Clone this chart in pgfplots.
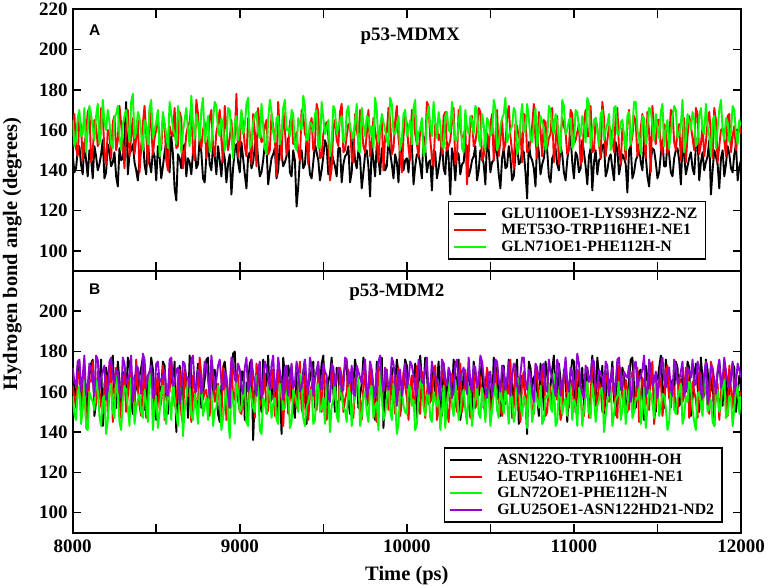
\documentclass[border=0pt]{standalone}
\usepackage{pgfplots}
\pgfplotsset{compat=1.18}
\usepackage{pgfplotstable}
\usepackage{fontspec}
\setmainfont{Liberation Serif}
\newfontfamily\arialfont{Liberation Sans}
\definecolor{mgred}{RGB}{255,0,0}
\definecolor{mggreen}{RGB}{0,255,0}
\definecolor{mgviolet}{RGB}{148,0,211}

\pgfplotstableread{
t a b c
8000 148 160 165
8020 141 151 155
8040 152 166 170
8060 138 145 158
8080 145 158 149
8100 150 171 172
8120 136 149 161
8140 147 162 167
8160 143 155 153
8180 155 168 175
8200 139 143 160
8220 149 159 164
8240 144 164 151
8260 137 150 168
8280 151 172 157
8300 146 153 163
8320 174 161 170
8340 148 147 154
8360 153 166 178
8380 140 156 159
8400 145 139 166
8420 157 163 150
8440 138 158 162
8460 144 170 171
8480 150 148 156
8500 135 160 164
8520 147 154 147
8540 142 167 169
8560 154 145 158
8580 139 162 174
8600 148 157 161
8620 125 151 153
8640 146 169 166
8660 151 141 159
8680 137 158 171
8700 144 164 152
8720 149 149 163
8740 141 175 168
8760 156 155 155
8780 136 160 176
8800 147 146 160
8820 143 166 149
8840 152 152 165
8860 138 159 172
8880 145 170 157
8900 150 144 162
8920 134 161 154
8940 148 156 170
8960 141 149 146
8980 153 178 167
9000 139 153 161
9020 146 163 158
9040 131 147 173
9060 149 158 151
9080 144 168 164
9100 157 142 169
9120 137 160 156
9140 145 155 162
9160 151 165 148
9180 140 150 175
9200 148 162 159
9220 136 137 166
9240 154 157 153
9260 142 171 171
9280 147 148 160
9300 139 164 157
9320 150 153 168
9340 122 159 150
9360 146 145 163
9380 141 167 177
9400 155 156 155
9420 138 162 164
9440 144 150 159
9460 149 173 170
9480 135 146 152
9500 147 158 166
9520 152 164 161
9540 140 135 147
9560 145 161 172
9580 137 155 158
9600 151 169 165
9620 143 149 154
9640 148 157 169
9660 134 163 161
9680 156 144 156
9700 141 160 173
9720 146 170 149
9740 139 152 163
9760 150 158 167
9780 127 147 158
9800 145 166 151
9820 153 154 170
9840 138 161 160
9860 147 140 164
9880 142 159 155
9900 149 165 176
9920 136 151 159
9940 144 172 162
9960 155 148 150
9980 140 157 168
10000 146 163 157
10020 151 145 165
10040 133 168 171
10060 148 153 153
10080 143 160 160
10100 157 149 147
10120 139 174 166
10140 145 156 162
10160 150 142 174
10180 136 162 156
10200 147 158 163
10220 141 167 151
10240 154 150 169
10260 128 155 159
10280 146 171 164
10300 149 146 155
10320 138 161 172
10340 144 157 149
10360 152 133 161
10380 140 164 167
10400 147 152 158
10420 135 160 170
10440 150 169 152
10460 143 147 163
10480 156 158 166
10500 139 163 157
10520 145 145 175
10540 148 170 150
10560 131 155 162
10580 151 150 168
10600 142 166 154
10620 146 157 160
10640 137 141 171
10660 153 162 148
10680 144 159 165
10700 149 168 159
10720 126 149 173
10740 147 154 156
10760 141 173 163
10780 155 146 152
10800 138 160 167
10820 146 165 161
10840 150 151 155
10860 134 158 170
10880 148 144 158
10900 143 167 164
10920 152 156 149
10940 139 162 172
10960 145 148 160
10980 157 170 166
11000 136 153 153
11020 147 159 169
11040 141 143 157
11060 149 164 162
11080 133 157 176
11100 151 172 151
11120 144 150 165
11140 138 161 159
11160 146 146 168
11180 153 166 155
11200 140 155 163
11220 148 160 150
11240 135 149 171
11260 150 171 158
11280 143 143 164
11300 146 158 157
11320 129 164 167
11340 152 152 153
11360 139 167 174
11380 147 147 160
11400 144 161 148
11420 155 156 166
11440 137 169 162
11460 145 139 170
11480 150 158 155
11500 136 165 161
11520 148 151 169
11540 142 163 152
11560 154 148 165
11580 139 170 159
11600 146 154 172
11620 151 159 156
11640 133 145 163
11660 147 166 149
11680 142 157 168
11700 149 162 160
11720 138 150 165
11740 156 168 154
11760 144 153 171
11780 140 147 158
11800 147 164 162
11820 128 158 147
11840 150 171 167
11860 143 144 161
11880 146 160 175
11900 137 155 155
11920 152 167 164
11940 141 149 159
11960 148 162 170
11980 135 156 153
12000 145 158 162
}\topdataA

\pgfplotstableread{
t a b c
8010 139 168 152
8030 150 147 166
8050 143 162 157
8070 154 153 171
8090 137 169 160
8110 146 144 168
8130 152 165 155
8150 140 152 173
8170 148 171 159
8190 136 149 164
8210 153 160 170
8230 142 146 153
8250 149 167 166
8270 132 155 172
8290 145 163 150
8310 156 141 167
8330 138 170 161
8350 150 157 174
8370 144 148 156
8390 135 165 169
8410 151 152 158
8430 143 172 165
8450 155 143 153
8470 139 161 175
8490 147 156 160
8510 152 167 170
8530 136 150 155
8550 149 163 163
8570 144 140 151
8590 157 158 168
8610 131 171 158
8630 148 152 172
8650 141 166 149
8670 153 148 165
8690 146 162 160
8710 138 173 177
8730 152 145 156
8750 143 168 163
8770 149 151 170
8790 134 164 154
8810 155 154 167
8830 140 170 152
8850 147 147 174
8870 152 163 159
8890 137 155 166
8910 146 172 150
8930 143 150 171
8950 128 165 158
8970 150 157 164
8990 144 147 155
9010 154 169 170
9030 138 152 162
9050 147 166 176
9070 141 143 153
9090 152 159 167
9110 145 171 159
9130 139 154 173
9150 153 162 151
9170 133 148 165
9190 146 168 169
9210 151 156 154
9230 140 174 167
9250 148 145 158
9270 144 160 175
9290 156 151 161
9310 137 167 170
9330 145 155 152
9350 132 149 166
9370 150 170 160
9390 143 158 172
9410 148 143 156
9430 136 166 163
9450 153 153 168
9470 145 169 151
9490 140 147 174
9510 155 162 158
9530 138 157 165
9550 149 141 153
9570 142 165 170
9590 151 152 161
9610 134 173 167
9630 147 150 155
9650 152 163 172
9670 139 146 159
9690 145 168 164
9710 150 155 150
9730 131 162 171
9750 148 149 157
9770 142 170 166
9790 153 153 162
9810 137 160 176
9830 146 144 154
9850 151 166 168
9870 140 157 160
9890 155 171 152
9910 143 148 173
9930 148 164 158
9950 134 156 167
9970 150 139 155
9990 145 167 170
10010 139 151 161
10030 153 170 153
10050 142 158 175
10070 148 147 159
10090 136 165 166
10110 151 153 150
10130 144 172 172
10150 130 146 157
10170 149 163 164
10190 141 155 169
10210 155 148 152
10230 138 169 167
10250 146 152 160
10270 151 164 174
10290 135 143 155
10310 148 170 163
10330 143 156 151
10350 153 161 170
10370 137 148 158
10390 145 167 165
10410 152 154 172
10430 140 171 156
10450 147 145 168
10470 133 160 150
10490 150 151 164
10510 144 168 159
10530 155 157 171
10550 138 147 153
10570 146 165 166
10590 141 153 176
10610 152 172 157
10630 135 149 162
10650 148 163 169
10670 143 156 151
10690 150 144 173
10710 139 167 160
10730 154 150 166
10750 145 162 154
10770 132 155 171
10790 149 169 159
10810 143 147 164
10830 153 164 150
10850 137 156 172
10870 146 171 162
10890 151 152 168
10910 140 143 155
10930 148 166 175
10950 135 159 158
10970 152 150 165
10990 144 168 151
11010 149 155 170
11030 139 163 161
11050 155 145 167
11070 142 170 154
11090 147 157 173
11110 130 149 159
11130 150 166 166
11150 145 153 152
11170 152 174 170
11190 137 147 160
11210 146 162 168
11230 141 155 155
11250 154 167 172
11270 138 150 158
11290 148 161 165
11310 143 145 150
11330 150 170 169
11350 136 157 161
11370 145 164 174
11390 153 151 156
11410 140 168 167
11430 147 146 153
11450 132 159 171
11470 151 172 162
11490 144 153 168
11510 139 165 156
11530 155 148 173
11550 142 161 160
11570 148 155 151
11590 137 169 166
11610 150 150 170
11630 145 163 158
11650 153 157 175
11670 138 144 155
11690 146 167 164
11710 141 156 169
11730 152 171 152
11750 135 148 167
11770 149 162 160
11790 144 154 173
11810 155 169 157
11830 140 146 165
11850 147 165 151
11870 131 152 170
11890 150 161 160
11910 143 147 166
11930 148 168 154
11950 139 157 172
11970 153 150 158
11990 142 164 165
}\topdataB

\pgfplotstableread{
t a b c d
8000 170 163 158 172
8020 158 152 146 163
8040 175 170 163 176
8060 162 157 151 168
8080 147 146 142 158
8100 168 166 160 174
8120 176 175 155 166
8140 155 154 166 178
8160 165 161 148 161
8180 143 149 157 170
8200 172 168 139 156
8220 160 158 162 175
8240 178 145 150 167
8260 152 172 168 171
8280 166 156 145 160
8300 170 163 156 177
8320 157 150 161 164
8340 174 167 143 169
8360 149 159 165 155
8380 163 176 152 173
8400 168 153 159 166
8420 177 162 147 179
8440 154 147 154 162
8460 165 169 170 170
8480 171 157 141 157
8500 146 164 158 174
8520 160 151 150 165
8540 175 173 163 168
8560 158 148 144 159
8580 169 160 155 176
8600 163 166 167 163
8620 140 155 149 171
8640 173 171 160 154
8660 156 144 138 175
8680 167 163 156 167
8700 178 158 164 162
8720 150 168 146 178
8740 164 152 153 160
8760 171 177 161 169
8780 159 156 148 164
8800 176 161 157 173
8820 153 148 165 157
8840 168 167 143 170
8860 162 159 152 166
8880 145 154 159 176
8900 172 172 147 161
8920 166 146 162 168
8940 157 164 137 152
8960 179 157 155 174
8980 160 170 166 165
9000 151 150 150 171
9020 170 162 158 159
9040 164 145 145 177
9060 174 168 163 163
9080 136 158 152 169
9100 167 174 168 158
9120 158 153 141 175
9140 176 160 157 166
9160 163 149 149 172
9180 155 166 160 161
9200 171 171 154 178
9220 148 155 146 164
9240 165 163 164 170
9260 177 143 151 156
9280 159 169 158 173
9300 168 157 142 167
9320 153 161 161 162
9340 173 152 155 175
9360 162 175 169 160
9380 170 148 147 169
9400 144 165 153 165
9420 166 159 160 177
9440 175 167 144 158
9460 157 151 162 171
9480 163 162 150 163
9500 178 170 157 174
9520 152 146 167 168
9540 169 158 140 155
9560 160 164 156 172
9580 172 155 148 166
9600 156 172 163 170
9620 167 150 152 161
9640 174 160 145 176
9660 149 166 159 164
9680 164 147 154 159
9700 170 169 166 173
9720 158 156 143 167
9740 177 163 158 171
9760 161 153 150 157
9780 166 175 161 175
9800 153 158 147 163
9820 175 145 155 169
9840 168 167 170 178
9860 142 161 146 160
9880 171 171 157 168
9900 163 152 151 165
9920 157 159 164 174
9940 176 164 139 153
9960 150 148 160 171
9980 167 170 153 166
10000 173 157 149 162
10020 160 162 162 175
10040 165 154 156 168
10060 147 173 144 158
10080 178 149 165 172
10100 162 166 152 164
10120 169 160 158 177
10140 155 155 147 161
10160 172 168 160 170
10180 164 146 153 166
10200 158 163 141 156
10220 174 171 163 174
10240 151 152 155 163
10260 168 158 168 169
10280 176 165 148 160
10300 161 150 157 176
10320 146 174 150 167
10340 170 156 161 172
10360 165 161 144 159
10380 157 147 159 165
10400 175 169 152 173
10420 163 154 166 162
10440 168 166 147 178
10460 152 159 156 167
10480 171 172 162 157
10500 159 148 143 170
10520 177 163 158 164
10540 166 157 151 175
10560 148 151 164 160
10580 173 167 149 171
10600 162 160 155 166
10620 169 176 160 158
10640 155 153 145 174
10660 176 164 167 163
10680 160 145 153 169
10700 165 170 158 177
10720 139 158 142 161
10740 172 162 161 168
10760 167 149 150 155
10780 158 166 156 172
10800 174 155 163 166
10820 151 173 146 174
10840 169 150 157 160
10860 163 161 152 170
10880 178 167 169 163
10900 157 156 145 176
10920 166 146 159 158
10940 171 169 154 168
10960 145 159 148 165
10980 168 163 162 172
11000 175 152 156 161
11020 160 171 143 179
11040 164 157 160 164
11060 153 148 151 157
11080 172 165 165 171
11100 167 160 147 167
11120 158 174 157 175
11140 177 154 153 162
11160 162 162 161 169
11180 149 151 140 160
11200 170 168 155 173
11220 165 157 163 165
11240 156 164 149 159
11260 173 147 158 176
11280 161 170 146 163
11300 168 155 161 170
11320 150 161 154 167
11340 176 166 167 155
11360 163 150 150 174
11380 159 172 156 162
11400 171 158 144 168
11420 146 163 162 178
11440 167 153 152 160
11460 174 169 159 171
11480 157 144 147 165
11500 165 160 165 157
11520 178 167 153 173
11540 152 156 158 166
11560 169 173 141 169
11580 162 152 160 161
11600 160 162 151 176
11620 172 149 157 164
11640 155 165 164 170
11660 166 158 148 158
11680 175 171 155 172
11700 148 154 162 167
11720 168 160 145 163
11740 163 147 159 175
11760 177 168 153 160
11780 158 163 168 169
11800 171 156 150 154
11820 161 175 156 173
11840 143 151 143 166
11860 169 164 161 171
11880 166 159 154 162
11900 174 170 166 177
11920 154 148 149 165
11940 167 161 157 168
11960 172 166 152 159
11980 159 157 163 174
12000 164 160 158 167
}\botdataA

\pgfplotstableread{
t a b c d
8010 161 157 149 165
8030 173 168 160 175
8050 150 151 144 160
8070 169 172 166 178
8090 158 148 141 163
8110 174 165 157 171
8130 148 156 151 158
8150 167 170 162 176
8170 176 153 143 167
8190 155 164 158 173
8210 166 149 146 161
8230 171 174 164 177
8250 159 155 147 164
8270 175 161 159 170
8290 148 147 141 157
8310 163 169 163 174
8330 177 158 152 166
8350 156 171 167 178
8370 168 151 144 163
8390 160 162 156 172
8410 172 148 150 159
8430 151 170 161 176
8450 166 157 145 168
8470 177 164 166 173
8490 155 150 153 160
8510 169 168 142 175
8530 161 155 160 166
8550 173 146 149 171
8570 149 162 164 158
8590 166 175 146 177
8610 175 153 157 164
8630 157 166 143 172
8650 164 149 162 160
8670 171 170 151 174
8690 147 158 166 167
8710 168 145 148 176
8730 160 163 159 162
8750 174 153 144 171
8770 152 168 163 159
8790 166 160 153 175
8810 177 150 146 166
8830 158 172 160 178
8850 171 155 151 161
8870 149 164 163 173
8890 163 146 141 165
8910 175 167 155 170
8930 155 153 148 158
8950 168 175 161 177
8970 180 156 144 166
8990 156 168 160 174
9010 170 149 152 162
9030 146 163 165 172
9050 165 154 143 160
9070 176 171 157 176
9090 159 147 150 164
9110 172 166 161 171
9130 150 155 139 157
9150 167 169 154 175
9170 178 151 164 168
9190 156 162 147 173
9210 164 148 157 160
9230 175 170 144 177
9250 139 156 161 166
9270 168 162 152 172
9290 173 149 163 158
9310 160 173 145 174
9330 147 155 158 164
9350 170 166 150 170
9370 156 152 166 162
9390 176 168 143 176
9410 163 146 155 159
9430 171 163 161 173
9450 152 157 146 166
9470 167 172 164 175
9490 174 150 152 161
9510 158 165 144 170
9530 165 153 159 157
9550 177 170 153 174
9570 150 157 165 163
9590 169 147 145 172
9610 161 168 158 160
9630 173 156 151 177
9650 155 171 162 165
9670 168 150 143 173
9690 176 165 157 158
9710 152 158 167 170
9730 164 146 148 164
9750 172 169 160 176
9770 158 155 145 162
9790 170 162 163 171
9810 146 148 153 157
9830 166 174 141 175
9850 177 157 158 166
9870 160 166 149 172
9890 155 151 163 161
9910 172 168 146 177
9930 164 149 156 165
9950 169 172 144 170
9970 157 155 161 158
9990 176 163 150 174
10010 151 146 164 166
10030 168 168 153 173
10050 174 158 141 161
10070 159 152 158 176
10090 166 170 166 165
10110 177 147 148 171
10130 154 164 160 159
10150 167 157 145 175
10170 160 173 155 168
10190 175 151 163 162
10210 148 167 150 176
10230 165 159 142 166
10250 171 145 161 172
10270 157 169 153 157
10290 168 156 166 174
10310 176 162 146 163
10330 153 150 158 170
10350 164 171 151 164
10370 172 155 163 177
10390 149 166 143 160
10410 169 152 157 172
10430 158 170 149 166
10450 175 158 162 175
10470 162 147 145 161
10490 166 165 159 169
10510 150 154 151 158
10530 174 171 164 176
10550 160 156 147 166
10570 168 148 155 173
10590 154 167 161 161
10610 176 159 144 175
10630 163 147 157 167
10650 171 170 150 172
10670 144 155 163 159
10690 168 166 148 177
10710 157 153 156 165
10730 175 163 166 171
10750 162 151 145 160
10770 169 172 160 174
10790 148 156 152 166
10810 166 168 144 173
10830 175 148 158 161
10850 156 164 164 176
10870 171 153 150 167
10890 159 169 143 158
10910 174 157 161 172
10930 152 150 149 164
10950 169 174 157 177
10970 161 152 165 160
10990 176 166 146 170
11010 150 155 154 166
11030 167 169 162 174
11050 172 149 143 159
11070 158 163 158 173
11090 165 147 150 165
11110 178 172 164 176
11130 153 158 145 162
11150 168 165 156 171
11170 173 150 162 167
11190 157 168 148 175
11210 164 155 159 158
11230 175 162 143 172
11250 151 149 156 164
11270 167 173 165 177
11290 172 157 151 161
11310 156 166 144 168
11330 166 151 160 173
11350 177 170 147 160
11370 152 156 157 175
11390 170 145 164 166
11410 160 167 150 171
11430 173 160 142 158
11450 158 151 161 176
11470 168 175 154 163
11490 150 154 166 170
11510 172 163 148 165
11530 163 148 159 177
11550 176 171 152 162
11570 157 158 145 172
11590 166 164 163 158
11610 175 150 149 173
11630 153 167 160 166
11650 169 155 144 175
11670 160 172 158 161
11690 172 147 165 170
11710 157 165 151 176
11730 174 156 141 164
11750 150 170 160 171
11770 166 152 148 157
11790 176 162 165 175
11810 158 149 152 163
11830 168 171 145 172
11850 162 158 161 159
11870 175 146 150 176
11890 153 166 163 166
11910 170 154 147 170
11930 160 173 158 162
11950 174 152 143 175
11970 150 165 160 164
11990 168 158 149 171
}\botdataB

\pgfplotstablevertcat{\topdataA}{\topdataB}
\pgfplotstablesort[sort key=t]{\topdata}{\topdataA}
\pgfplotstablevertcat{\botdataA}{\botdataB}
\pgfplotstablesort[sort key=t]{\botdata}{\botdataA}

\pgfplotsset{
  panel/.style={
    scale only axis, width=668.3bp, height=261.7bp,
    xmin=8000, xmax=12000, ymin=90, ymax=220,
    xtick={8000,8500,...,12000},
    scaled x ticks=false, scaled y ticks=false,
    axis line style={line width=1.8bp},
    tick style={line width=1.6bp, black},
    major tick length=8.5bp,
    tick align=inside,
    /pgf/number format/assume math mode=true,
    ticklabel style={font=\fontsize{19bp}{21bp}\selectfont\bfseries},
    yticklabel style={xshift=-1.5bp},
    xticklabel style={yshift=-3.5bp},
    legend cell align=left,
    legend image code/.code={\draw[##1,line width=2bp] (0bp,0bp) -- (32bp,0bp);},
    legend style={draw=black, line width=1.6bp,
      font=\fontsize{15.8bp}{18bp}\selectfont\bfseries,
      inner xsep=5bp, inner ysep=4bp, row sep=0bp,
      nodes={inner xsep=3bp, inner ysep=2.3bp},
      /tikz/every odd column/.append style={column sep=11bp}},
    every axis plot/.append style={mark=none, line width=1.9bp, line join=round},
  },
}

\begin{document}
\begin{tikzpicture}
\path[use as bounding box] (-72.7bp,-55.3bp) rectangle (699.3bp,532.7bp);
\begin{axis}[panel, at={(0bp,261.7bp)}, anchor=south west,
  ytick={100,120,...,220}, xticklabels={},
  legend style={at={(0.948,0.042)}, anchor=south east}]
\addplot[black] table[x=t,y=a]{\topdata};
\addlegendentry{GLU110OE1-LYS93HZ2-NZ}
\addplot[mgred] table[x=t,y=b]{\topdata};
\addlegendentry{MET53O-TRP116HE1-NE1}
\addplot[mggreen] table[x=t,y=c]{\topdata};
\addlegendentry{GLN71OE1-PHE112H-N}
\node[font=\arialfont\fontsize{15.5bp}{17bp}\selectfont\bfseries] at (rel axis cs:0.033,0.921) {A};
\node[font=\fontsize{19bp}{21bp}\selectfont\bfseries] at (rel axis cs:0.505,0.898) {p53-MDMX};
\end{axis}
\begin{axis}[panel, at={(0bp,0bp)}, anchor=south west,
  ytick={100,120,...,200}, xticklabels={8000,,9000,,10000,,11000,,12000},
  legend style={at={(0.973,0.037)}, anchor=south east}]
\addplot[black] table[x=t,y=a]{\botdata};
\addlegendentry{ASN122O-TYR100HH-OH}
\addplot[mgred] table[x=t,y=b]{\botdata};
\addlegendentry{LEU54O-TRP116HE1-NE1}
\addplot[mggreen] table[x=t,y=c]{\botdata};
\addlegendentry{GLN72OE1-PHE112H-N}
\addplot[mgviolet] table[x=t,y=d]{\botdata};
\addlegendentry{GLU25OE1-ASN122HD21-ND2}
\node[font=\arialfont\fontsize{15.5bp}{17bp}\selectfont\bfseries] at (rel axis cs:0.033,0.931) {B};
\node[font=\fontsize{19bp}{21bp}\selectfont\bfseries] at (rel axis cs:0.485,0.918) {p53-MDM2};
\end{axis}
\node[rotate=90, font=\fontsize{20.5bp}{22bp}\selectfont\bfseries] at (-60.5bp,278.7bp) {Hydrogen bond angle (degrees)};
\node[font=\fontsize{20.5bp}{22bp}\selectfont\bfseries] at (334.2bp,-43.3bp) {Time (ps)};
\end{tikzpicture}
\end{document}
